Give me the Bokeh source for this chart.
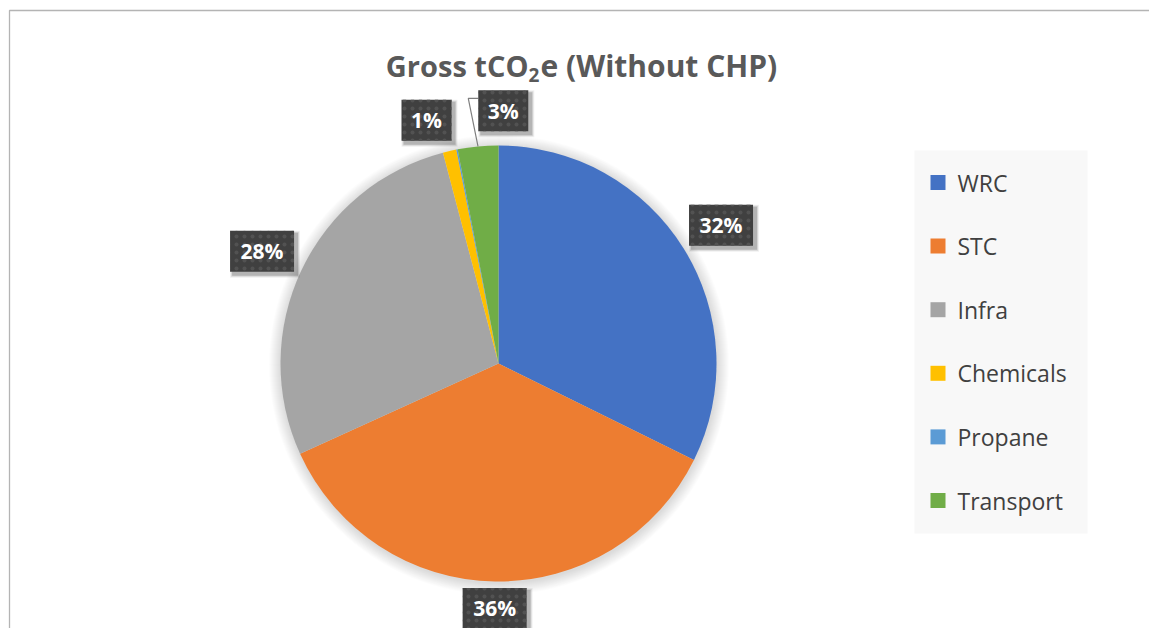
import numpy as np
from bokeh.plotting import figure
from bokeh.models import Range1d, ColumnDataSource
from bokeh.embed import file_html
from bokeh.resources import INLINE
from bokeh.core.properties import value

# ---- data ----
categories = ["WRC", "STC", "Infra", "Chemicals", "Propane", "Transport"]
shares = [32.3, 35.9, 27.7, 1.0, 0.1, 3.0]
colors = ["#4472C4", "#ED7D31", "#A5A5A5", "#FFC000", "#5B9BD5", "#70AD47"]
title_parts = ["Gross tCO", "2", "e (Without CHP)"]

# ---- layout (page pixel based) ----
W, H = 1149, 628
def Y(py):
    return 636 - py

p = figure(width=W, height=H, x_range=Range1d(0, 1149), y_range=Range1d(8, 636),
           output_backend="svg", toolbar_location=None, min_border=0,
           outline_line_color=None)
p.axis.visible = False
p.grid.visible = False
p.background_fill_color = "white"
p.border_fill_color = "white"

FONT = value("Open Sans")

# chart border (left + top)
p.line([9, 9, 1157], [Y(640), Y(10), Y(10)], line_color="#B4B4B4", line_width=1.3)

# title
p.text(x=[528], y=[Y(65)], text=[title_parts[0]], text_align="right", text_baseline="alphabetic",
       text_font=FONT, text_font_style="bold", text_font_size="29px", text_color="#595959")
p.text(x=[528], y=[Y(74)], text=[title_parts[1]], text_align="left", text_baseline="alphabetic",
       text_font=FONT, text_font_style="bold", text_font_size="19px", text_color="#595959")
p.text(x=[540], y=[Y(65)], text=[title_parts[2]], text_align="left", text_baseline="alphabetic",
       text_font=FONT, text_font_style="bold", text_font_size="30px", text_color="#595959")

# pie
cx, cy, R = 498, Y(363), 218
vals = np.array(shares, dtype=float)
frac = vals / vals.sum()
cum = np.concatenate([[0], np.cumsum(frac)])
start = np.pi / 2 - 2 * np.pi * cum[:-1]
end = np.pi / 2 - 2 * np.pi * cum[1:]
mid = (start + end) / 2

# soft glow around the pie
for i in range(12, 0, -1):
    p.circle(x=cx + 0.5, y=cy - 1.5, radius=R + i, fill_color="black", fill_alpha=0.011,
             line_color=None)

src = ColumnDataSource(dict(start=start, end=end, color=colors, cat=categories))
p.wedge(x=cx, y=cy, radius=R, start_angle="start", end_angle="end", direction="clock",
        fill_color="color", line_color=None, source=src)

# data labels
nudge = {3: (-16, 0), 5: (28, 7)}
lx, ly, lw, lt = [], [], [], []
for i, v in enumerate(shares):
    if round(v) < 1:
        continue
    txt = f"{round(v)}%"
    w = 64 if len(txt) > 2 else 50
    h = 41
    ux, uy = np.cos(mid[i]), np.sin(mid[i])
    proj = w / 2 * abs(ux) + h / 2 * abs(uy)
    d = 224 + proj
    x = cx + d * ux + nudge.get(i, (0, 0))[0]
    y = cy + d * uy + nudge.get(i, (0, 0))[1]
    lx.append(x); ly.append(y); lw.append(w); lt.append(txt)
    if i == 5:
        ex, ey = cx + R * np.cos(mid[i]), cy + R * np.sin(mid[i])
        bx = x - w / 2
        by = y + h / 2 - 8
        p.line([ex, bx - 10, bx], [ey, by, by], line_color="#7F7F7F", line_width=1.2)

for k, a in [(6, 0.06), (4, 0.10), (2, 0.16)]:
    ssrc = ColumnDataSource(dict(x=[a_ + 3 for a_ in lx], y=[b - 3 for b in ly],
                                 w=[ww + k for ww in lw], h=[41 + k] * len(lw)))
    p.rect(x="x", y="y", width="w", height="h", source=ssrc,
           fill_color="black", fill_alpha=a, line_color=None)
lsrc = ColumnDataSource(dict(x=lx, y=ly, w=lw, t=lt))
p.rect(x="x", y="y", width="w", height=41, source=lsrc, fill_color="#404040",
       line_color=None, hatch_pattern="dot", hatch_color="#525252", hatch_scale=8,
       hatch_weight=1.2)
p.text(x="x", y="y", text="t", source=lsrc, text_align="center", text_baseline="middle",
       text_font=FONT, text_font_style="bold", text_font_size="21px", text_color="white")

# legend
p.quad(left=[914], right=[1087], top=[Y(150)], bottom=[Y(533)], fill_color="#F8F8F8",
       line_color=None)
leg_y = [Y(182 + 63.6 * i) for i in range(len(categories))]
p.rect(x=[937.5] * len(categories), y=leg_y, width=15, height=15, fill_color=colors,
       line_color=None)
p.text(x=[957] * len(categories), y=leg_y, text=categories, text_align="left",
       text_baseline="middle", text_font=FONT, text_font_size="23px", text_color="#404040")

open("out.html", "w").write(file_html(p, INLINE))
